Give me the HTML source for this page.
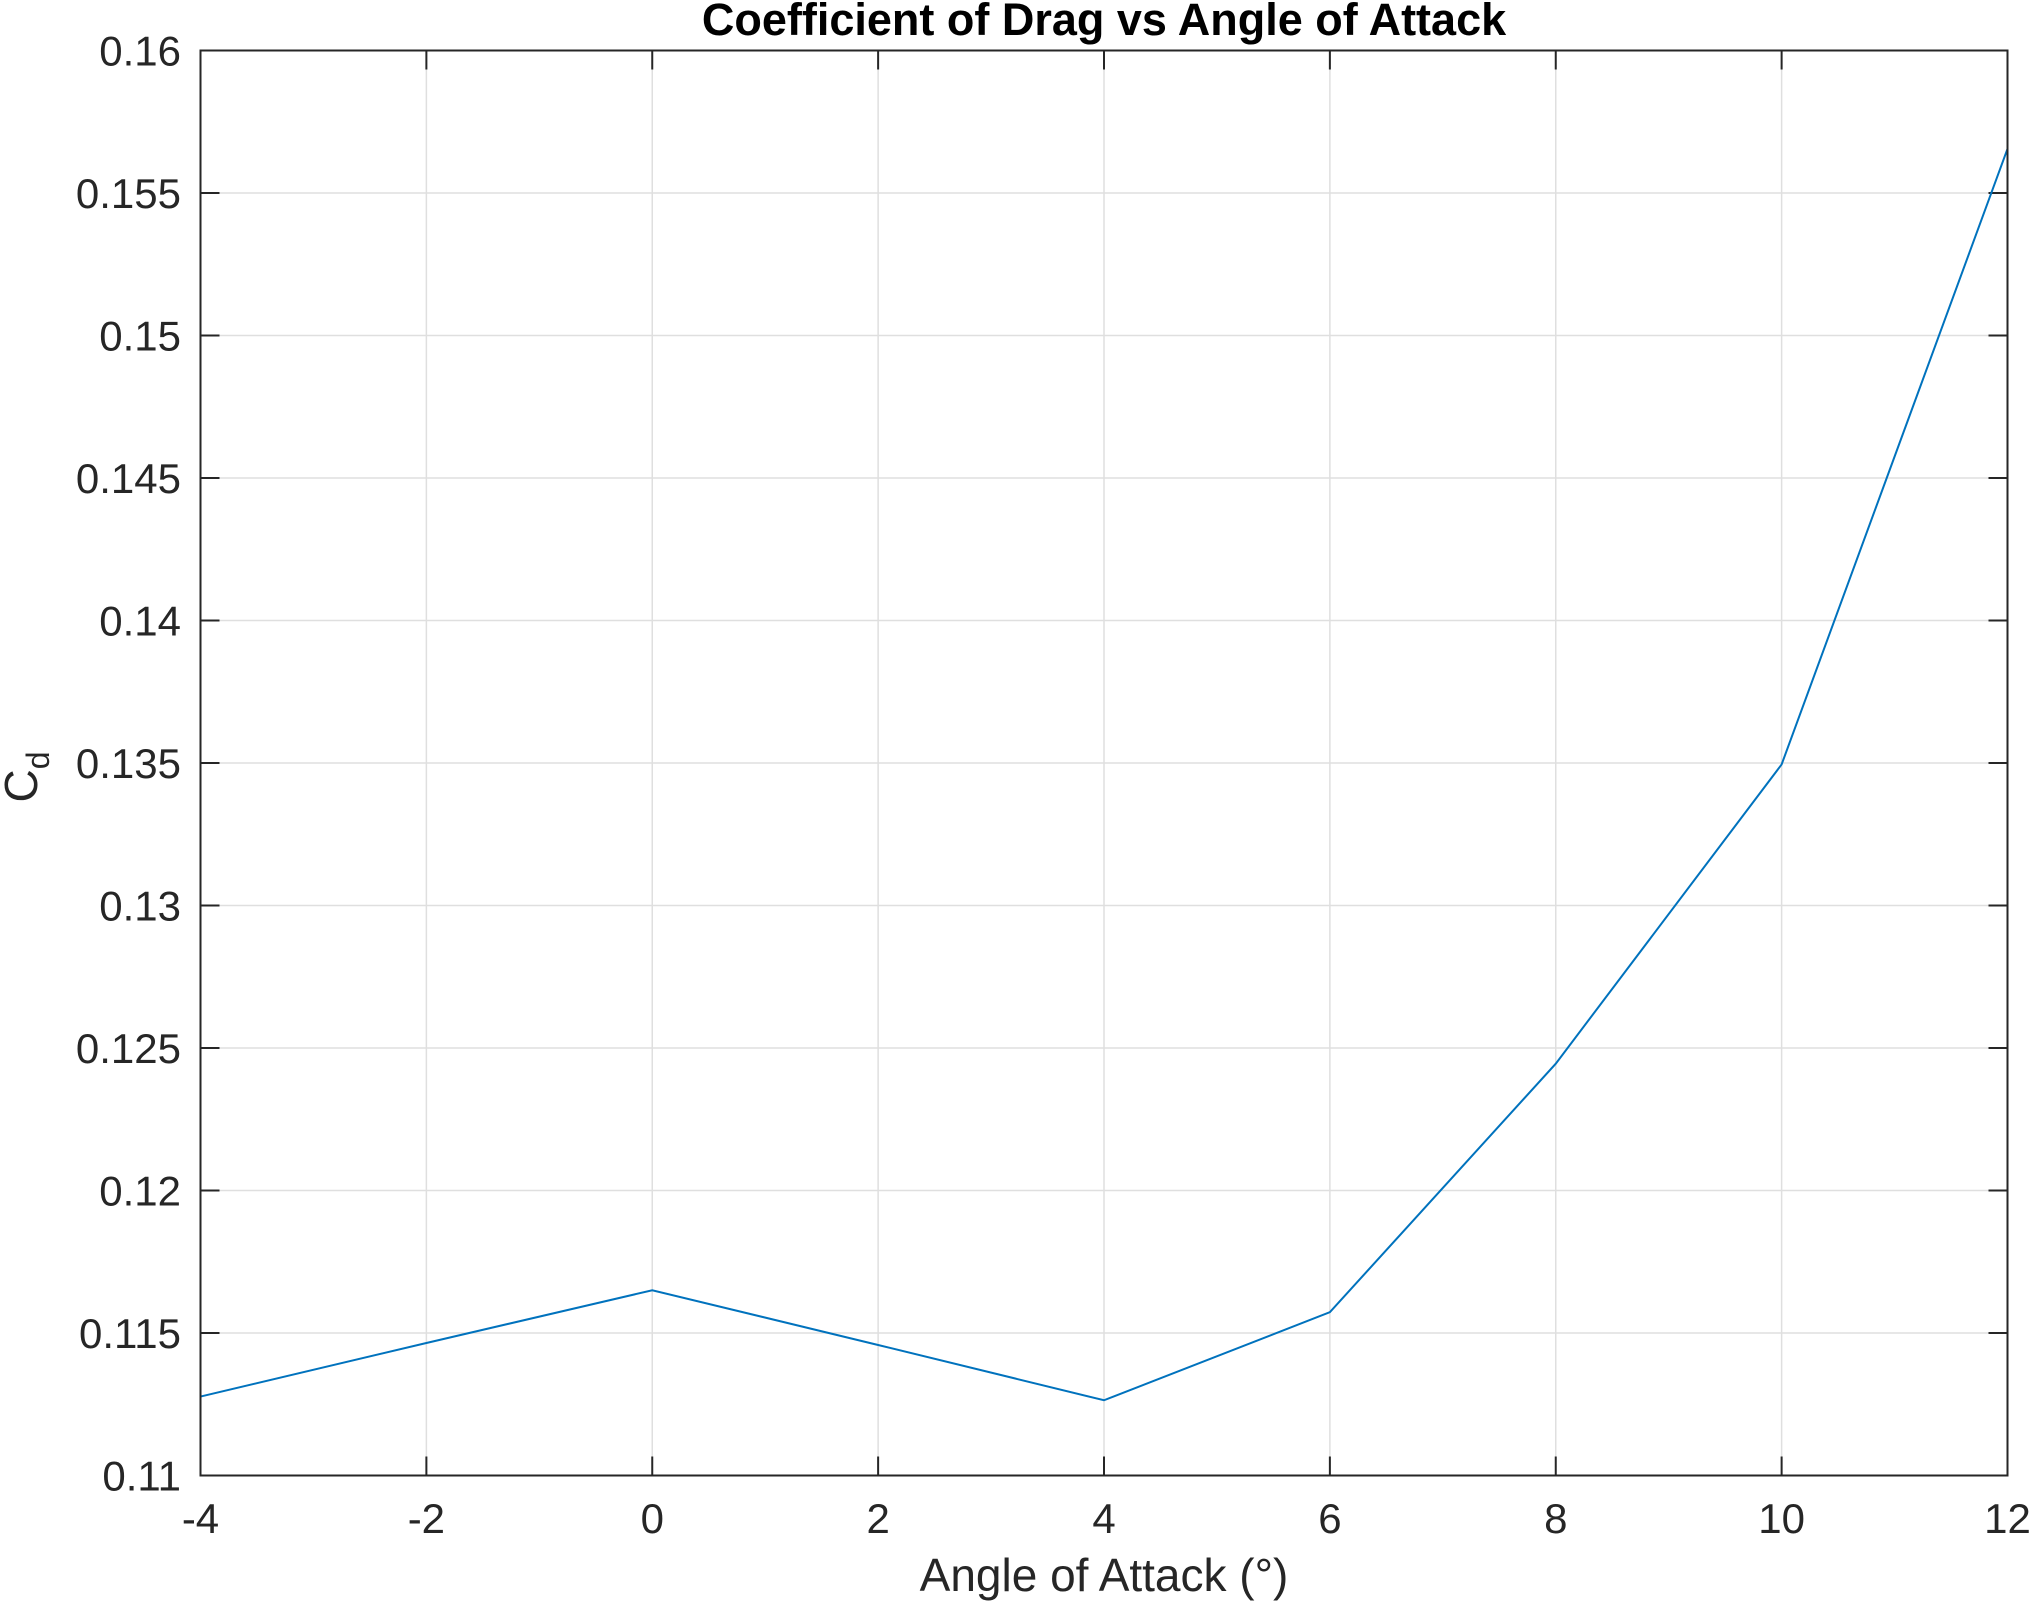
<!DOCTYPE html>
<html><head><meta charset="utf-8"><style>
body{margin:0;background:#fff;}
svg{display:block;font-family:"Liberation Sans",Arial,sans-serif;}
</style></head><body>
<svg id="chart" width="2031" height="1602" viewBox="0 0 2031 1602">
<rect width="2031" height="1602" fill="#fff"/>
<g id="grid"></g>
<g id="ticks"></g>
<polyline id="line" fill="none" stroke="#0072BD" stroke-width="2"/>
<rect x="200.5" y="50.5" width="1807" height="1425" fill="none" stroke="#262626" stroke-width="2"/>
<text x="1104" y="35" text-anchor="middle" font-weight="bold" font-size="45" fill="#000">Coefficient of Drag vs Angle of Attack</text>
<text x="1104" y="1591" text-anchor="middle" font-size="46" fill="#262626">Angle of Attack (°)</text>
<text transform="translate(37,777) rotate(-90)" text-anchor="middle" font-size="46" fill="#262626">C<tspan font-size="32" dy="12">d</tspan></text>
</svg>
<script>
const angles=[-4,-2,0,2,4,6,8,10,12];
const cd=[0.11277,0.11465,0.1165,0.11458,0.11264,0.11573,0.12445,0.13495,0.15655];
const xTicks=[-4,-2,0,2,4,6,8,10,12];
const yTicks=[0.11,0.115,0.12,0.125,0.13,0.135,0.14,0.145,0.15,0.155,0.16];
const yTickLabels=["0.11","0.115","0.12","0.125","0.13","0.135","0.14","0.145","0.15","0.155","0.16"];
const L=200.5,R=2007.5,T=50.5,B=1475.5;
const xs=v=>L+(v-(-4))/(16)*(R-L);
const ys=v=>B-(v-0.11)/0.05*(B-T);
const ns="http://www.w3.org/2000/svg";
const grid=document.getElementById('grid'),ticks=document.getElementById('ticks');
function mk(tag,attrs,parent){const e=document.createElementNS(ns,tag);for(const k in attrs)e.setAttribute(k,attrs[k]);parent.appendChild(e);return e;}
xTicks.forEach(v=>{const x=xs(v);
 const g=mk('line',{x1:x,x2:x,y1:T,y2:B,stroke:'#dfdfdf','stroke-width':1.5},grid);
 
 
 const t=mk('line',{x1:x,x2:x,y1:B,y2:B-19,stroke:'#262626','stroke-width':2},ticks);
 
 
 const t2=mk('line',{x1:x,x2:x,y1:T,y2:T+19,stroke:'#262626','stroke-width':2},ticks);
 
 
 const l=mk('text',{x:x,y:1533,'text-anchor':'middle','font-size':42,fill:'#262626'},ticks);
 l.textContent=String(v);
 
 
});
yTicks.forEach((v,i)=>{const y=ys(v);
 const g=mk('line',{x1:L,x2:R,y1:y,y2:y,stroke:'#dfdfdf','stroke-width':1.5},grid);
 
 
 const t=mk('line',{x1:L,x2:L+19,y1:y,y2:y,stroke:'#262626','stroke-width':2},ticks);
 
 
 const t2=mk('line',{x1:R,x2:R-19,y1:y,y2:y,stroke:'#262626','stroke-width':2},ticks);
 
 
 const l=mk('text',{x:181,y:y+15,'text-anchor':'end','font-size':42,fill:'#262626'},ticks);
 l.textContent=yTickLabels[i];
 
 
});
document.getElementById('line').setAttribute('points',angles.map((a,i)=>xs(a)+','+ys(cd[i])).join(' '));
</script>
</body></html>
